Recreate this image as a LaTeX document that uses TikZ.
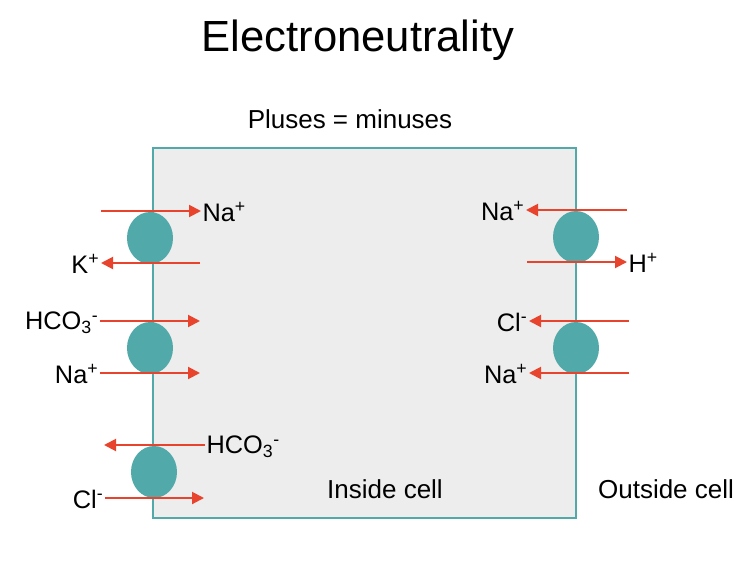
\documentclass[tikz,border=0pt]{standalone}
\usepackage{fontspec}
\setmainfont{Liberation Sans}
\usetikzlibrary{shapes.geometric, arrows.meta, positioning}
\definecolor{tealc}{HTML}{52A9A9}
\definecolor{fluxred}{HTML}{E8432D}
\definecolor{cellgray}{HTML}{EDEDED}
\tikzset{
    cell/.style={draw=tealc, line width=1.6pt, fill=cellgray},
    carrier/.style={ellipse, fill=tealc, minimum width=34.5pt, minimum height=39pt, inner sep=0pt},
    flux/.style={-{Triangle[length=9pt, width=9pt]}, draw=fluxred, line width=1.5pt},
    ion/.style={font=\fontsize{19}{22}\selectfont, inner sep=1pt},
    caption/.style={font=\fontsize{19.5}{23}\selectfont, inner sep=0pt},
}

\begin{document}
\begin{tikzpicture}[x=0.75pt, y=-0.75pt]
    \useasboundingbox (0,0) rectangle (752,560);

    % Title and cell
    \node[font=\fontsize{32.7}{38}\selectfont, inner sep=0pt] (title) at (358,40) {Electroneutrality};
    \node[caption] (rule) at (350,119) {Pluses = minuses};
    \draw[cell] (153,148) rectangle (576,518);
    \node[caption] (inside) at (385,489) {Inside cell};
    \node[caption] (outside) at (666,489) {Outside cell};

    % Carriers on the left membrane
    \node[carrier] (c1) at (150,238) {};
    \node[carrier] (c2) at (150,348) {};
    \node[carrier] (c3) at (154,472) {};
    % Carriers on the right membrane
    \node[carrier] (c4) at (576,237) {};
    \node[carrier] (c5) at (576,348) {};

    % Left side, first carrier
    \coordinate (s1) at (101,211);
    \node[ion, anchor=west] (na1) at (201,212) {Na\textsuperscript{+}};
    \draw[flux] (s1) -- (s1 -| na1.west);
    \coordinate (s2) at (200,263);
    \node[ion, anchor=east] (k1) at (101,264) {K\textsuperscript{+}};
    \draw[flux] (s2) -- (s2 -| k1.east);

    % Left side, second carrier
    \node[ion, anchor=east] (hco1) at (100,323) {HCO\textsubscript{3}\textsuperscript{-}};
    \coordinate (e3) at (200,321);
    \draw[flux] (e3 -| hco1.east) -- (e3);
    \node[ion, anchor=east] (na2) at (100,374) {Na\textsuperscript{+}};
    \coordinate (e4) at (200,373);
    \draw[flux] (e4 -| na2.east) -- (e4);

    % Left side, third carrier
    \node[ion, anchor=west] (hco2) at (205,447) {HCO\textsubscript{3}\textsuperscript{-}};
    \coordinate (e5) at (104,445);
    \draw[flux] (e5 -| hco2.west) -- (e5);
    \node[ion, anchor=east] (cl1) at (105,499) {Cl\textsuperscript{-}};
    \coordinate (e6) at (204,498);
    \draw[flux] (e6 -| cl1.east) -- (e6);

    % Right side, first carrier
    \coordinate (s7) at (627,210);
    \node[ion, anchor=east] (na3) at (526,211) {Na\textsuperscript{+}};
    \draw[flux] (s7) -- (s7 -| na3.east);
    \coordinate (s8) at (527,262);
    \node[ion, anchor=west] (h1) at (627,263) {H\textsuperscript{+}};
    \draw[flux] (s8) -- (s8 -| h1.west);

    % Right side, second carrier
    \coordinate (s9) at (629,321);
    \node[ion, anchor=east] (cl2) at (529,322) {Cl\textsuperscript{-}};
    \draw[flux] (s9) -- (s9 -| cl2.east);
    \coordinate (s10) at (629,373);
    \node[ion, anchor=east] (na4) at (529,374) {Na\textsuperscript{+}};
    \draw[flux] (s10) -- (s10 -| na4.east);
\end{tikzpicture}
\end{document}
